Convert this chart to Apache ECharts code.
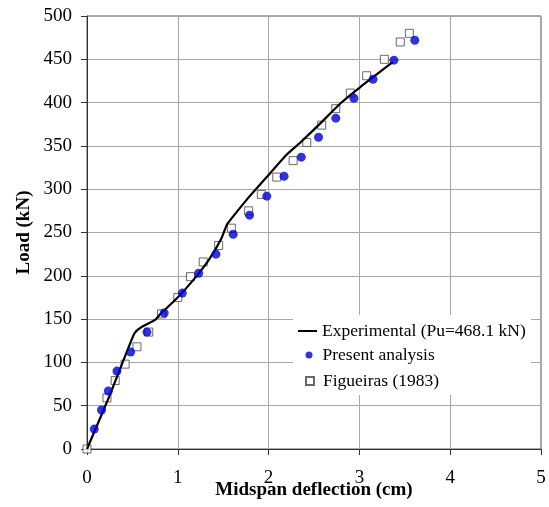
<!DOCTYPE html>
<html><head><meta charset="utf-8">
<script src="https://cdn.jsdelivr.net/npm/echarts@6/dist/echarts.min.js"></script>
<style>html,body{margin:0;padding:0;background:#fff}#c{width:549px;height:507px}</style>
</head><body><div id="c"></div>
<script>
const expX = [0, 0.25, 0.51, 0.55, 0.62, 0.75, 0.80, 0.99, 1.17, 1.34, 1.48, 1.54, 1.59, 1.76, 1.98, 2.20, 2.35, 2.57, 2.79, 3.01, 3.37];
const expY = [0, 62, 131, 137, 142, 149, 155, 174, 195, 218, 243, 259, 266, 288, 314, 340, 354, 376, 399, 418, 447];
const presX = [0.08, 0.16, 0.235, 0.33, 0.48, 0.66, 0.85, 1.05, 1.23, 1.42, 1.61, 1.79, 1.98, 2.17, 2.36, 2.55, 2.74, 2.94, 3.15, 3.38, 3.61];
const presY = [23, 45, 67, 90, 112, 135, 157, 180, 203, 225, 248, 270, 292, 315, 337, 360, 382, 405, 427, 449, 472];
const figX = [0, 0.22, 0.31, 0.42, 0.55, 0.68, 0.82, 1.00, 1.14, 1.28, 1.45, 1.59, 1.78, 1.92, 2.09, 2.27, 2.42, 2.585, 2.74, 2.90, 3.08, 3.275, 3.45, 3.55];
const figY = [0, 59, 79, 98, 118, 135, 156, 175, 199, 216, 235, 255, 275, 294, 314, 333, 354, 374, 393, 411, 431, 450, 470, 480];
const xTicks = [0, 1, 2, 3, 4, 5];
const yTicks = [0, 50, 100, 150, 200, 250, 300, 350, 400, 450, 500];
const names = ['Experimental (Pu=468.1 kN)', 'Present analysis', 'Figueiras (1983)'];

const zip = (a, b) => a.map((v, i) => [v, b[i]]);
const font = '"Liberation Serif", "DejaVu Serif", serif';
const legText = { fontFamily: font, fontSize: 17.5, color: '#000' };
const chart = echarts.init(document.getElementById('c'));
chart.setOption({
  animation: false,
  backgroundColor: '#fff',
  grid: { left: 87, right: 8, top: 16, bottom: 58, show: true, borderColor: '#555', borderWidth: 1, containLabel: false, outerBoundsMode: 'none' },
  xAxis: {
    type: 'value', min: 0, max: 5, interval: 1,
    name: 'Midspan deflection (cm)', nameLocation: 'middle', nameGap: 32, nameMoveOverlap: false,
    nameTextStyle: { fontFamily: font, fontWeight: 'bold', fontSize: 19, color: '#000' },
    axisLine: { show: true, lineStyle: { color: '#333', width: 1 } },
    axisTick: { show: true, inside: false, length: 6, lineStyle: { color: '#333' } },
    axisLabel: { fontFamily: font, fontSize: 19, color: '#000', margin: 20, formatter: v => xTicks.includes(v) ? String(v) : '' },
    splitLine: { show: true, lineStyle: { color: '#a8a8a8', width: 1 } }
  },
  yAxis: {
    type: 'value', min: 0, max: 500, interval: 50,
    name: 'Load (kN)', nameLocation: 'middle', nameGap: 53, nameMoveOverlap: false,
    nameTextStyle: { fontFamily: font, fontWeight: 'bold', fontSize: 19, color: '#000' },
    axisLine: { show: true, lineStyle: { color: '#333', width: 1 } },
    axisTick: { show: true, inside: false, length: 6, lineStyle: { color: '#333' } },
    axisLabel: { fontFamily: font, fontSize: 19, color: '#000', margin: 15, formatter: v => yTicks.includes(v) ? String(v) : '' },
    splitLine: { show: true, lineStyle: { color: '#a8a8a8', width: 1 } }
  },
  graphic: [{ type: 'rect', z: 1, shape: { x: 293, y: 315, width: 238, height: 80 }, style: { fill: '#fff' } }],
  legend: [
    { left: 298, top: 322, padding: 0, itemWidth: 19, itemHeight: 2, textStyle: legText,
      data: [{ name: names[0], icon: 'rect' }] },
    { left: 305.5, top: 346, padding: 0, itemWidth: 7, itemHeight: 7, textStyle: Object.assign({ padding: [0, 0, 0, 5] }, legText),
      data: [{ name: names[1], icon: 'circle' }] },
    { left: 305, top: 372, padding: 0, itemWidth: 8, itemHeight: 8, textStyle: Object.assign({ padding: [0, 0, 0, 4] }, legText),
      data: [{ name: names[2], icon: 'rect' }] }
  ],
  series: [
    { name: names[0], type: 'line', data: zip(expX, expY), showSymbol: false, symbol: 'none', smooth: 0.2,
      lineStyle: { color: '#000', width: 2.2 }, itemStyle: { color: '#000' }, z: 3 },
    { name: names[1], type: 'scatter', data: zip(presX, presY), symbol: 'circle', symbolSize: 9,
      itemStyle: { color: '#0000cc' }, z: 4 },
    { name: names[2], type: 'scatter', data: zip(figX, figY), symbol: 'rect', symbolSize: 8,
      itemStyle: { color: '#fff', borderColor: '#444', borderWidth: 1 }, z: 2 }
  ]
});
</script></body></html>
